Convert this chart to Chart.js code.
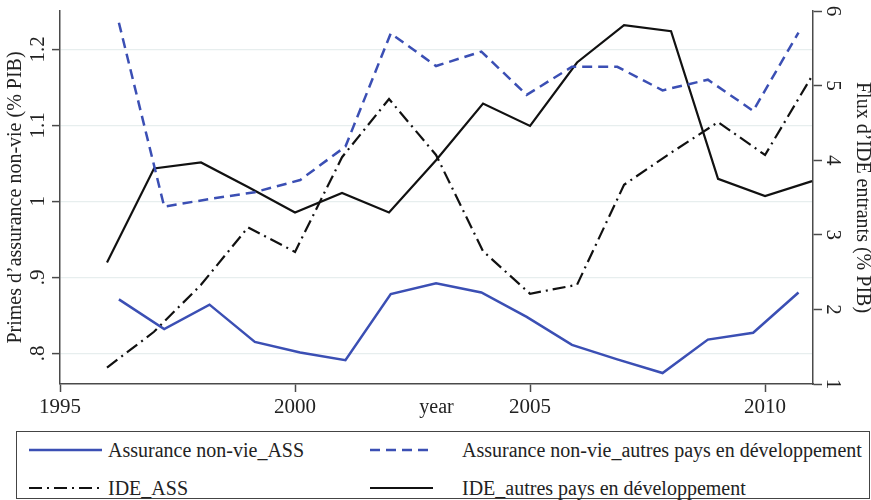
<!DOCTYPE html>
<html>
<head>
<meta charset="utf-8">
<script src="https://cdn.jsdelivr.net/npm/chart.js@4.4.1/dist/chart.umd.min.js"></script>
<style>
  html, body { margin: 0; padding: 0; background: #fff; }
  #wrap { position: relative; width: 871px; height: 500px; }
  #box { position: absolute; left: 0; top: 0; width: 871px; height: 430px; }
  #legend {
    position: absolute; left: 16px; top: 431px; width: 852px; height: 66px;
    border: 1.5px solid #444;
    font-family: 'Liberation Serif', serif; font-size: 20px; color: #222;
  }
  .item { position: absolute; display: flex; align-items: center; height: 24px; white-space: nowrap; }
  .item svg { display: block; }
</style>
</head>
<body>
<div id="wrap">
  <div id="box"><canvas id="chart"></canvas></div>
  <div id="legend"></div>
</div>
<script>
const years = [1996, 1997, 1998, 1999, 2000, 2001, 2002, 2003, 2004, 2005, 2006, 2007, 2008, 2009, 2010, 2011]

// Primes d'assurance non-vie (% PIB), axe gauche
const assASS = [0.871, 0.832, 0.864, 0.815, 0.801, 0.791, 0.878, 0.892, 0.880, 0.848, 0.811, 0.792, 0.774, 0.818, 0.827, 0.880]
const assAutres = [1.235, 0.993, 1.003, 1.012, 1.028, 1.072, 1.221, 1.178, 1.197, 1.140, 1.177, 1.177, 1.146, 1.160, 1.119, 1.222]

// Flux d'IDE entrants (% PIB), axe droit
const ideASS = [1.22, 1.70, 2.33, 3.10, 2.77, 4.04, 4.82, 4.07, 2.78, 2.21, 2.33, 3.67, 4.10, 4.51, 4.07, 5.13]
const ideAutres = [2.63, 3.89, 3.97, 3.64, 3.30, 3.56, 3.30, 4.00, 4.76, 4.46, 5.31, 5.81, 5.73, 3.75, 3.52, 3.72]

const xTicks = [1995, 2000, 2005, 2010]
const leftTicks = [0.8, 0.9, 1, 1.1, 1.2]
const leftTickLabels = ['.8', '.9', '1', '1.1', '1.2']
const rightTicks = [1, 2, 3, 4, 5, 6]

const blue = '#3b4fb4'
const black = '#111111'
const axisColor = '#4a4a4a'
const serif = "'Liberation Serif', 'Times New Roman', serif"

const pts = (vals) => years.map((y, i) => ({ x: y, y: vals[i] }))
const setTicks = (list) => (scale) => { scale.ticks = list.map((v) => ({ value: v })) }

const chart = new Chart(document.getElementById('chart'), {
  type: 'line',
  data: {
    datasets: [
      {
        label: 'Assurance non-vie_ASS',
        data: pts(assASS),
        xAxisID: 'x2', yAxisID: 'y',
        borderColor: blue, borderWidth: 2.5,
      },
      {
        label: 'Assurance non-vie_autres pays en développement',
        data: pts(assAutres),
        xAxisID: 'x2', yAxisID: 'y',
        borderColor: blue, borderWidth: 2.5, borderDash: [10, 6],
      },
      {
        label: 'IDE_ASS',
        data: pts(ideASS),
        xAxisID: 'x', yAxisID: 'y1',
        borderColor: black, borderWidth: 2.2, borderDash: [13, 5, 2, 5],
      },
      {
        label: 'IDE_autres pays en développement',
        data: pts(ideAutres),
        xAxisID: 'x', yAxisID: 'y1',
        borderColor: black, borderWidth: 2.2,
      },
    ],
  },
  options: {
    responsive: true,
    maintainAspectRatio: false,
    animation: false,
    layout: { padding: { top: 11, left: 0, right: 0, bottom: 0 } },
    elements: { point: { radius: 0 }, line: { tension: 0, fill: false } },
    plugins: { legend: { display: false }, tooltip: { enabled: false } },
    scales: {
      x: {
        type: 'linear', position: 'bottom',
        min: 1995, max: 2011.02,
        afterBuildTicks: setTicks(xTicks),
        afterFit: (s) => { s.height = 46; s.paddingLeft = 0; s.paddingRight = 0 },
        ticks: {
          callback: (v) => String(v),
          font: { family: serif, size: 21 }, color: '#222', padding: 3, maxRotation: 0,
        },
        grid: { drawOnChartArea: false, tickLength: 8, tickColor: axisColor, tickWidth: 1.5 },
        border: { color: axisColor, width: 1.5 },
        title: {
          display: true, text: 'year',
          font: { family: serif, size: 20 }, color: '#222',
          padding: { top: 0, bottom: 10 },
        },
      },
      x2: {
        type: 'linear', display: false,
        min: 1994.70, max: 2011.32,
      },
      y: {
        type: 'linear', position: 'left',
        min: 0.7596, max: 1.2504,
        afterBuildTicks: setTicks(leftTicks),
        afterFit: (s) => { s.width = 60; s.paddingTop = 0; s.paddingBottom = 0 },
        ticks: {
          callback: (v, i) => leftTickLabels[i],
          font: { family: serif, size: 21 }, color: '#222',
          minRotation: 90, maxRotation: 90, crossAlign: 'center', padding: 0,
        },
        grid: { color: '#e7eeee', lineWidth: 1.2, tickLength: 8, tickColor: axisColor, tickWidth: 1.5 },
        border: { color: axisColor, width: 1.5 },
        title: {
          display: true, text: 'Primes d’assurance non-vie (% PIB)',
          font: { family: serif, size: 20 }, color: '#222',
          padding: { top: 4, bottom: 0 },
        },
      },
      y1: {
        type: 'linear', position: 'right',
        min: 1, max: 6,
        afterBuildTicks: setTicks(rightTicks),
        afterFit: (s) => { s.width = 58; s.paddingTop = 0; s.paddingBottom = 0 },
        ticks: {
          callback: (v) => String(v),
          font: { family: serif, size: 21 }, color: '#222',
          minRotation: -90, maxRotation: -90, crossAlign: 'center', padding: 5,
        },
        grid: { drawOnChartArea: false, tickLength: 9, tickColor: axisColor, tickWidth: 1.5 },
        border: { color: axisColor, width: 1.5 },
        title: {
          display: true, text: 'Flux d’IDE entrants (% PIB)',
          font: { family: serif, size: 20 }, color: '#222',
          padding: { top: -3, bottom: 0 },
        },
      },
    },
  },
})

// légende en HTML, deux colonnes comme dans la figure
const legendCols = [{ left: 12, w: 73, gap: 6 }, { left: 353, w: 63, gap: 29 }]
const legendRows = [6, 44]
const legendEl = document.getElementById('legend')
chart.data.datasets.forEach((ds, i) => {
  const col = legendCols[i % 2]
  const item = document.createElement('div')
  item.className = 'item'
  item.style.left = col.left + 'px'
  item.style.top = legendRows[Math.floor(i / 2)] + 'px'
  const dash = ds.borderDash ? ds.borderDash.join(',') : 'none'
  item.innerHTML =
    `<svg width="${col.w}" height="10"><line x1="0" y1="5" x2="${col.w}" y2="5" stroke="${ds.borderColor}" stroke-width="${ds.borderWidth}" stroke-dasharray="${dash}"/></svg>` +
    `<span style="margin-left:${col.gap}px">${ds.label}</span>`
  legendEl.appendChild(item)
})
</script>
</body>
</html>
